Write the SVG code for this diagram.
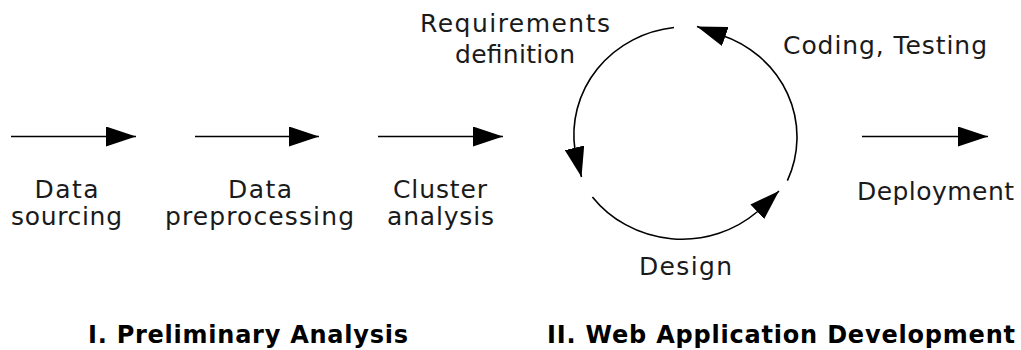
<svg xmlns="http://www.w3.org/2000/svg" width="1021" height="350" viewBox="0 0 1021 350">
<style>
.lbl{font-family:"DejaVu Sans","Liberation Sans",sans-serif;font-size:25px;fill:#1a1a1a;text-anchor:middle}
.ttl{font-family:"DejaVu Sans","Liberation Sans",sans-serif;font-size:24px;font-weight:bold;fill:#000;text-anchor:middle}
.ln{fill:none;stroke:#000;stroke-width:1.6}
</style>
<defs>
<marker id="ah" markerUnits="userSpaceOnUse" markerWidth="30" markerHeight="20" refX="30" refY="10" orient="auto" viewBox="0 0 30 20">
<path d="M0,0 L30,10 L0,20 z" fill="#000"/>
</marker>
</defs>
<rect width="1021" height="350" fill="#fff"/>
<g id="connectors">
<path class="ln" d="M11,136.5 L136,136.5" marker-end="url(#ah)"/>
<path class="ln" d="M195,136.5 L319,136.5" marker-end="url(#ah)"/>
<path class="ln" d="M378,136.5 L503,136.5" marker-end="url(#ah)"/>
<path class="ln" d="M862,136.5 L988,136.5" marker-end="url(#ah)"/>
<path class="ln" d="M674,27.5 A113,108 0 0 0 575,150 L581.5,177" marker-end="url(#ah)"/>
<path class="ln" d="M592.4,196.9 A113,108 0 0 0 757,212 L779,191" marker-end="url(#ah)"/>
<path class="ln" d="M787.4,180.6 A113,108 0 0 0 721,35 L697,26.5" marker-end="url(#ah)"/>
</g>
<g id="n-sourcing"><text class="lbl" x="66.5" y="198" textLength="64">Data</text><text class="lbl" x="66.5" y="225" textLength="111">sourcing</text></g>
<g id="n-preprocessing"><text class="lbl" x="260" y="198" textLength="64">Data</text><text class="lbl" x="259.5" y="225" textLength="189">preprocessing</text></g>
<g id="n-cluster"><text class="lbl" x="440" y="198" textLength="94">Cluster</text><text class="lbl" x="440.5" y="225" textLength="107">analysis</text></g>
<g id="n-requirements"><text class="lbl" x="515" y="32" textLength="190">Requirements</text><text class="lbl" x="515" y="63" textLength="120">definition</text></g>
<g id="n-coding"><text class="lbl" x="885" y="54" textLength="204">Coding, Testing</text></g>
<g id="n-design"><text class="lbl" x="685.5" y="275" textLength="93">Design</text></g>
<g id="n-deployment"><text class="lbl" x="935.5" y="200" textLength="157">Deployment</text></g>
<g id="t-phase1"><text class="ttl" x="248" y="343" textLength="320">I. Preliminary Analysis</text></g>
<g id="t-phase2"><text class="ttl" x="781" y="343" textLength="468">II. Web Application Development</text></g>
</svg>
